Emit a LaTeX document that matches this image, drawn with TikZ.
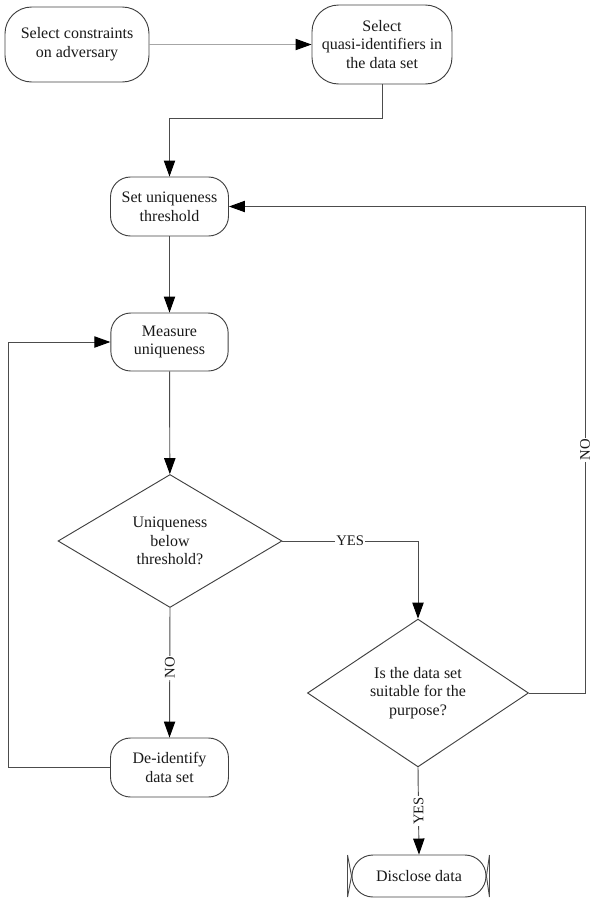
\documentclass[tikz,border=0pt]{standalone}
\usepackage{fontspec}
\setmainfont{Liberation Serif}
\usetikzlibrary{arrows.meta,shapes.geometric,shapes.misc,calc}
\begin{document}
\begin{tikzpicture}[x=0.75pt,y=-0.75pt,
  txt/.style={font=\fontsize{12}{14}\selectfont, text=black!90, align=center, inner sep=0pt},
  rbox/.style={txt, draw=black!75, line width=0.7pt, rectangle, rounded corners=#1},
  dia/.style={txt, draw=black!75, line width=0.7pt, diamond},
  conn/.style={draw=black!70, line width=0.7pt},
  arr/.style={conn, -{Triangle[length=12pt,width=8.5pt,color=black]}},
  lab/.style={font=\fontsize{11}{12}\selectfont, text=black!90, fill=white, inner sep=1pt}
]
\useasboundingbox (0,0) rectangle (600,904);

\node[rbox=20pt, minimum width=108pt, minimum height=56.25pt] (n1) at (77,44.5) {Select constraints\\on adversary};
\node[rbox=20pt, minimum width=105pt, minimum height=59.25pt] (n2) at (382,44.5) {Select\\quasi-identifiers in\\the data set};
\node[rbox=15pt, minimum width=88.5pt, minimum height=44.25pt] (n3) at (169.5,206.5) {Set uniqueness\\threshold};
\node[rbox=15pt, minimum width=88pt, minimum height=43.5pt] (n4) at (169.5,342) {Measure\\uniqueness};
\node[dia, minimum width=168pt, minimum height=99.75pt] (d1) at (170,541) {Uniqueness\\below\\threshold?};
\node[dia, minimum width=165.75pt, minimum height=90pt] (d2) at (418,693) {Is the data set\\suitable for the\\purpose?};
\node[rbox=15pt, minimum width=88.5pt, minimum height=44.25pt] (n5) at (169.5,767.5) {De-identify\\data set};
\node[txt, draw=black!75, line width=0.7pt, rounded rectangle, minimum width=100.5pt, minimum height=31.5pt] (disc) at (419,876) {Disclose data};

% terminator bars
\draw[conn] ($(disc.west)+(-4,-21)$) coordinate (lt) -- ($(disc.west)+(-4,21)$) coordinate (lb);
\draw[conn] (lt) -- (disc.west) -- (lb);
\draw[conn] ($(disc.east)+(3,-21)$) coordinate (rt) -- ($(disc.east)+(3,21)$) coordinate (rb);
\draw[conn] (rt) -- (disc.east) -- (rb);

% connectors
\draw[arr, draw=black!35] (n1) -- (n2);
\draw[arr] (n2.south) -- ++(0,33.5) coordinate (c1) -| (n3.north);
\draw[arr] (n3) -- (n4);
\draw[arr] (n4) -- (d1);
\draw[arr] (d1.east) -| node[lab, pos=0.25] {YES} (d2.north);
\draw[arr] (d1.south) -- node[lab, rotate=90, pos=0.46] {NO} (n5.north);
\draw[arr] (n5.west) -- ++(-102,0) coordinate (c2) |- (n4.west);
\draw[arr] (d2.east) -- ++(56,0) coordinate (c3) -- node[lab, rotate=90, pos=0.5] {NO} (c3 |- n3.east) -- (n3.east);
\draw[arr] (d2.south) -- node[lab, rotate=90, pos=0.5] {YES} (disc.north);
\end{tikzpicture}
\end{document}
